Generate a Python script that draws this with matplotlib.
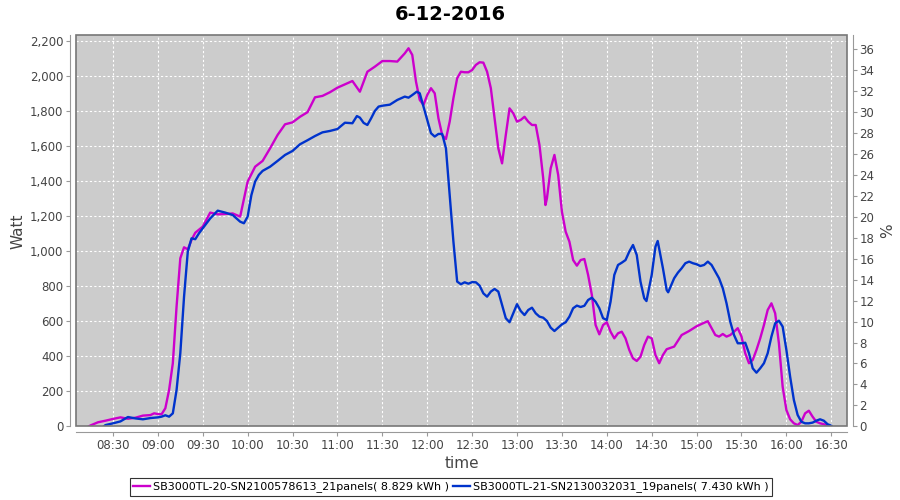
import matplotlib
matplotlib.use('Agg')
import matplotlib.pyplot as plt
from matplotlib.patches import Rectangle
from matplotlib.ticker import FuncFormatter, MultipleLocator

title = '6-12-2016'
names = ['SB3000TL-20-SN2100578613_21panels( 8.829 kWh )',
         'SB3000TL-21-SN2130032031_19panels( 7.430 kWh )']
colors = ['#cc00cc', '#0033cc']

m_time = ['08:14', '08:15', '08:20', '08:25', '08:30', '08:35', '08:40', '08:45', '08:50', '08:55',
          '08:57:30', '09:00', '09:02:30', '09:05', '09:07:30', '09:10', '09:12:30', '09:15', '09:17:30', '09:20',
          '09:22:30', '09:25', '09:30', '09:35', '09:40', '09:45', '09:50', '09:55', '10:00', '10:05',
          '10:10', '10:15', '10:20', '10:25', '10:30', '10:35', '10:40', '10:45', '10:50', '10:55',
          '11:00', '11:05', '11:10', '11:15', '11:20', '11:25', '11:30', '11:35', '11:40', '11:45',
          '11:47:30', '11:50', '11:52:30', '11:55', '11:57:30', '12:00', '12:02:30', '12:05', '12:07:30', '12:10',
          '12:12:30', '12:15', '12:17:30', '12:20', '12:22:30', '12:25', '12:27:30', '12:30', '12:32:30', '12:35',
          '12:37:30', '12:40', '12:42:30', '12:45', '12:47:30', '12:50', '12:52:30', '12:55', '12:57:30', '13:00',
          '13:02:30', '13:05', '13:07:30', '13:10', '13:12:30', '13:15', '13:17:30', '13:19', '13:20', '13:22:30',
          '13:25', '13:27:30', '13:30', '13:32:30', '13:35', '13:37:30', '13:40', '13:42:30', '13:45', '13:47:30',
          '13:50', '13:52:30', '13:55', '13:57:30', '14:00', '14:02:30', '14:05', '14:07:30', '14:10', '14:12:30',
          '14:15', '14:17:30', '14:20', '14:22:30', '14:25', '14:27:30', '14:30', '14:32:30', '14:35', '14:37:30',
          '14:40', '14:45', '14:50', '14:55', '15:00', '15:05', '15:07:30', '15:10', '15:12:30', '15:15',
          '15:17:30', '15:20', '15:22:30', '15:25', '15:27:30', '15:30', '15:32:30', '15:35', '15:37:30', '15:40',
          '15:42:30', '15:45', '15:47:30', '15:50', '15:52:30', '15:55', '15:57:30', '16:00', '16:02:30', '16:05',
          '16:07:30', '16:10', '16:12:30', '16:15', '16:17:30', '16:20', '16:22:30', '16:25', '16:28']
m_watt = [0, 5, 23, 32, 42, 51, 43, 49, 61, 64,
          74, 70, 69, 103, 207, 360, 683, 959, 1022, 1010,
          1064, 1105, 1140, 1220, 1210, 1212, 1215, 1197, 1397, 1482,
          1515, 1587, 1663, 1724, 1735, 1767, 1793, 1878, 1886, 1907,
          1933, 1952, 1971, 1910, 2024, 2053, 2085, 2085, 2082, 2129,
          2158, 2120, 1967, 1863, 1835, 1891, 1930, 1901, 1758, 1663,
          1640, 1739, 1873, 1987, 2024, 2021, 2021, 2034, 2063, 2078,
          2076, 2024, 1930, 1758, 1587, 1501, 1663, 1815, 1787, 1739,
          1749, 1767, 1739, 1720, 1720, 1606, 1416, 1263, 1302, 1473,
          1549, 1435, 1225, 1111, 1054, 949, 917, 949, 955, 864,
          750, 578, 525, 578, 594, 540, 502, 531, 540, 502,
          436, 388, 373, 397, 464, 512, 502, 407, 360, 407,
          440, 455, 521, 544, 571, 591, 600, 560, 521, 512,
          527, 512, 521, 540, 560, 512, 417, 360, 379, 436,
          502, 578, 664, 702, 645, 474, 226, 93, 40, 17,
          7, 26, 74, 89, 55, 26, 17, 12, 3]

b_time = ['08:24', '08:25', '08:30', '08:35', '08:40', '08:45', '08:50', '08:55', '09:00', '09:02:30',
          '09:05', '09:07:30', '09:10', '09:12:30', '09:15', '09:17:30', '09:20', '09:22:30', '09:25', '09:27:30',
          '09:30', '09:35', '09:40', '09:45', '09:50', '09:55', '09:57:30', '10:00', '10:02:30', '10:05',
          '10:07:30', '10:10', '10:15', '10:20', '10:25', '10:30', '10:35', '10:40', '10:45', '10:50',
          '10:55', '11:00', '11:05', '11:10', '11:13', '11:15', '11:17:30', '11:20', '11:22:30', '11:25',
          '11:27:30', '11:30', '11:35', '11:40', '11:45', '11:47:30', '11:50', '11:53', '11:55', '11:57:30',
          '12:00', '12:02:30', '12:05', '12:07:30', '12:10', '12:12:30', '12:15', '12:17:30', '12:20', '12:22:30',
          '12:25', '12:27:30', '12:30', '12:32:30', '12:35', '12:37:30', '12:40', '12:42:30', '12:45', '12:47:30',
          '12:50', '12:52:30', '12:55', '12:57:30', '13:00', '13:02:30', '13:05', '13:07:30', '13:10', '13:12:30',
          '13:15', '13:17:30', '13:20', '13:22:30', '13:25', '13:27:30', '13:30', '13:32:30', '13:35', '13:37:30',
          '13:40', '13:42:30', '13:45', '13:47:30', '13:50', '13:52:30', '13:55', '13:57:30', '14:00', '14:02:30',
          '14:05', '14:07:30', '14:10', '14:12:30', '14:15', '14:17:30', '14:20', '14:22:30', '14:25', '14:26:30',
          '14:30', '14:32:30', '14:34', '14:37:30', '14:40', '14:41', '14:45', '14:47:30', '14:50', '14:52:30',
          '14:55', '14:57:30', '15:00', '15:02:30', '15:05', '15:07:30', '15:10', '15:12:30', '15:15', '15:17:30',
          '15:20', '15:22:30', '15:25', '15:27:30', '15:30', '15:32:30', '15:35', '15:37:30', '15:40', '15:42:30',
          '15:45', '15:47:30', '15:50', '15:52:30', '15:55', '15:57:30', '16:00', '16:02:30', '16:05', '16:07:30',
          '16:10', '16:12:30', '16:15', '16:17:30', '16:20', '16:22:30', '16:25', '16:27:30', '16:30']
b_watt = [0, 7, 17, 28, 53, 45, 40, 47, 51, 55,
          63, 55, 74, 207, 417, 740, 997, 1073, 1068, 1102,
          1130, 1187, 1231, 1220, 1206, 1168, 1159, 1197, 1320, 1397,
          1435, 1458, 1482, 1515, 1549, 1572, 1610, 1633, 1657, 1678,
          1686, 1697, 1733, 1730, 1771, 1762, 1732, 1720, 1758, 1800,
          1825, 1830, 1836, 1863, 1882, 1876, 1891, 1910, 1901, 1825,
          1749, 1673, 1654, 1669, 1669, 1587, 1320, 1054, 826, 811,
          822, 814, 823, 822, 803, 759, 740, 769, 784, 769,
          692, 617, 594, 645, 697, 658, 635, 664, 677, 645,
          626, 620, 601, 563, 544, 563, 582, 594, 626, 674,
          689, 681, 688, 721, 734, 711, 674, 617, 607, 711,
          864, 921, 934, 949, 997, 1035, 978, 826, 731, 715,
          864, 1025, 1058, 902, 778, 765, 845, 877, 902, 931,
          940, 931, 925, 915, 921, 940, 921, 883, 845, 788,
          702, 597, 521, 474, 474, 477, 417, 331, 306, 331,
          360, 417, 512, 588, 603, 569, 436, 283, 150, 65,
          26, 17, 17, 21, 32, 40, 32, 12, 3]


def to_min(t):
    p = [float(v) for v in t.split(':')]
    return p[0] * 60 + p[1] + (p[2] / 60 if len(p) > 2 else 0)


txt = '#444444'
axc = '#999999'
fig = plt.figure(figsize=(9, 5), dpi=100)
ax = fig.add_axes([76 / 900, 1 - 426.3 / 500, 771 / 900, 391 / 500])
ax.set_facecolor('#cccccc')

for tl, wl, c, n in [(m_time, m_watt, colors[0], names[0]), (b_time, b_watt, colors[1], names[1])]:
    ax.plot([to_min(t) for t in tl], wl, color=c, lw=1.7, label=n, zorder=3,
            solid_joinstyle='round')

ax.set_xlim(485.3, 1000.5)
ax.set_ylim(0, 2232)
ax.xaxis.set_major_locator(MultipleLocator(30))
ax.xaxis.set_major_formatter(FuncFormatter(lambda v, p: '%02d:%02d' % (int(v) // 60, int(v) % 60)))
ax.yaxis.set_major_locator(MultipleLocator(200))
ax.yaxis.set_major_formatter(FuncFormatter(lambda v, p: f'{int(v):,}'))
ax.grid(True, color='white', linestyle=(0, (2, 2)), linewidth=0.8, zorder=1)
ax.set_axisbelow(True)

for s in ['top', 'right']:
    ax.spines[s].set_visible(False)
for s in ['left', 'bottom']:
    ax.spines[s].set_position(('outward', 4))
    ax.spines[s].set_color(axc)
ax.add_patch(Rectangle((0, 0), 1, 1, transform=ax.transAxes, fill=False,
                       edgecolor='#777777', lw=1.2, zorder=5, clip_on=False))
ax.tick_params(length=3, color=axc, labelcolor=txt, labelsize=8.5, pad=2)

ax2 = ax.twinx()
ax2.set_ylim(0, 37.34)
ax2.yaxis.set_major_locator(MultipleLocator(2))
for s in ['top', 'left', 'bottom']:
    ax2.spines[s].set_visible(False)
ax2.spines['right'].set_position(('outward', 4))
ax2.spines['right'].set_color(axc)
ax2.tick_params(length=3, color=axc, labelcolor=txt, labelsize=8.5, pad=2)

ax.set_ylabel('Watt', fontsize=11, color=txt, labelpad=3)
ax.set_xlabel('time', fontsize=11, color=txt, labelpad=3)
ax2.set_ylabel('%', fontsize=11, color=txt, labelpad=4)
fig.text(0.5, 0.972, title, ha='center', va='center', fontsize=14, fontweight='bold')

h, l = ax.get_legend_handles_labels()
leg = fig.legend(h, l, loc='center', bbox_to_anchor=(0.501, 0.026), ncol=2, fontsize=8,
                 frameon=True, fancybox=False, edgecolor='black', borderpad=0.3,
                 handlelength=1.5, handletextpad=0.3, columnspacing=0.4)
leg.get_frame().set_linewidth(0.8)

fig.savefig('out.png', dpi=100)
